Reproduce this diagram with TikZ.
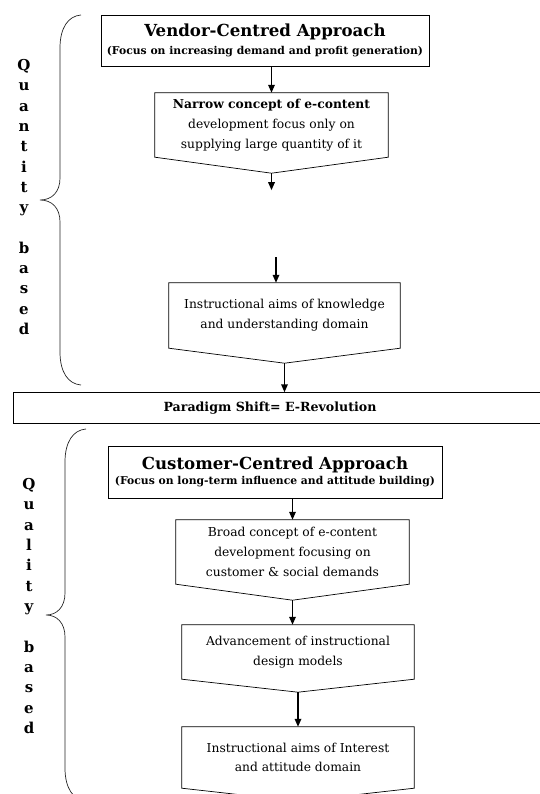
\documentclass[tikz,border=0pt]{standalone}
\usepackage{fontspec}
\setmainfont{DejaVu Serif}
\usetikzlibrary{arrows.meta}

\tikzset{
  line/.style={draw=black, line width=0.7pt},
  headbox/.style={line, align=center, inner sep=0pt, font=\fontsize{10.8}{13}\selectfont\bfseries},
  flowbox/.style={align=center, inner sep=0pt, font=\fontsize{12.3}{19.8}\selectfont},
  sidetxt/.style={align=center, inner sep=0pt, font=\fontsize{15}{20.3}\selectfont\bfseries},
  arr/.style={-{Triangle[length=8pt,width=6.5pt]}, line width=1.6pt},
  brace/.style={draw=black!85, line width=0.7pt}
}
% box with a pointed bottom, its tip is (<name>tip)
\newcommand{\pentagon}[2]{\draw[line] (#1.north west) -- (#1.north east) -- (#1.south east)
  -- ([yshift=-#2]#1.south) coordinate (#1tip) -- (#1.south west) -- cycle;}
\newcommand{\headline}[1]{{\fontsize{16.6}{19}\selectfont #1}}

\begin{document}
\begin{tikzpicture}[x=1pt, y=-1pt]
  \path[use as bounding box, clip] (0,0) rectangle (540,794);

  % quantity based
  \draw[brace] (81,15) .. controls (68,16) and (60,28) .. (60,48) -- (60,178)
    .. controls (60,192) and (52,200) .. (40,200) .. controls (52,200) and (60,208) .. (60,222)
    -- (60,352) .. controls (60,372) and (68,384) .. (81,385);
  \node[sidetxt] (quantity) at (24,197) {Q\\u\\a\\n\\t\\i\\t\\y\\[20.3pt]b\\a\\s\\e\\d};

  \node[headbox, minimum width=328, minimum height=51] (vendor) at (265,40.5)
    {\headline{Vendor-Centred Approach}\\[5pt](Focus on increasing demand and profit generation)};
  \node[flowbox, minimum width=233, minimum height=64] (narrow) at (271.5,125)
    {\textbf{Narrow concept of e-content}\\development focus only on\\supplying large quantity of it};
  \node[flowbox, minimum width=231, minimum height=65] (know) at (284.5,315.5)
    {Instructional aims of knowledge\\and understanding domain};

  % paradigm shift, open at the right
  \node[inner sep=0pt, minimum width=512, minimum height=31, font=\fontsize{12.6}{14}\selectfont\bfseries]
    (paradigm) at (270,408) {Paradigm Shift= E-Revolution};
  \draw[line] ([xshift=30pt]paradigm.north east) -- (paradigm.north west)
    -- (paradigm.south west) -- ([xshift=30pt]paradigm.south east);

  % quality based
  \draw[brace] (86,429) .. controls (73,430) and (65,442) .. (65,462) -- (65,593)
    .. controls (65,607) and (57,615) .. (46,615) .. controls (57,615) and (65,623) .. (65,637)
    -- (65,768) .. controls (65,788) and (73,800) .. (86,801);
  \node[sidetxt] (quality) at (29,606) {Q\\u\\a\\l\\i\\t\\y\\[20.5pt]b\\a\\s\\e\\d};

  \node[headbox, minimum width=334, minimum height=52] (customer) at (275,472)
    {\headline{Customer-Centred Approach}\\[2pt](Focus on long-term influence and attitude building)};
  \node[flowbox, minimum width=233, minimum height=64] (broad) at (292.5,552)
    {Broad concept of e-content\\development focusing on\\customer \& social demands};
  \node[flowbox, minimum width=232, minimum height=54] (advance) at (298,652)
    {Advancement of instructional\\design models};
  \node[flowbox, minimum width=232, minimum height=61] (aims) at (298,757.5)
    {Instructional aims of Interest\\and attitude domain};

  \foreach \b/\d in {narrow/16pt, know/15pt, broad/16pt, advance/13pt, aims/13pt}
    {\pentagon{\b}{\d}}

  % arrows
  \draw[arr] (vendor.south -| narrow.north) -- (narrow.north);
  \draw[arr] (narrowtip) -- ++(0,17) coordinate (gapend);
  \coordinate (gapstart) at (276,257);
  \draw[arr] (gapstart) -- (gapstart |- know.north);
  \draw[arr] (knowtip) -- (knowtip |- paradigm.north);
  \draw[arr] (customer.south -| broad.north) -- (broad.north);
  \draw[arr] (broadtip) -- (broadtip |- advance.north);
  \draw[arr] (advancetip) -- (advancetip |- aims.north);
\end{tikzpicture}
\end{document}
